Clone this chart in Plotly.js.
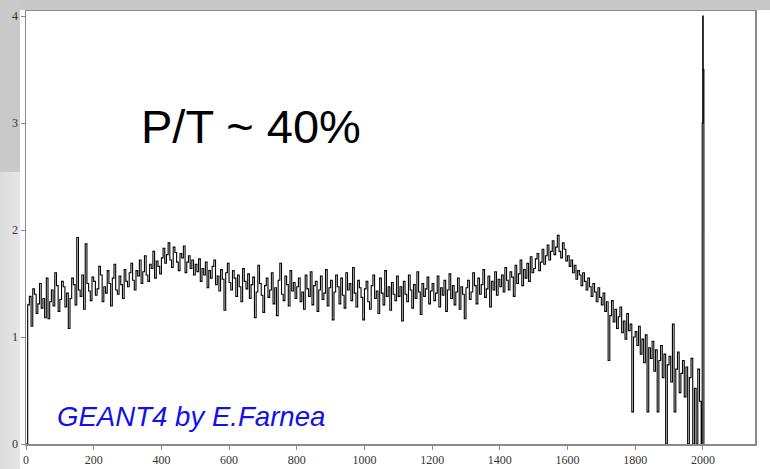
<!DOCTYPE html>
<html>
<head>
<meta charset="utf-8">
<script src="https://cdn.plot.ly/plotly-3.0.1.min.js"></script>
<style>
  html, body { margin: 0; padding: 0; width: 770px; height: 469px; overflow: hidden; }
  body { background: #ffffff; position: relative; }
  #topStrip { position: absolute; left: 0; top: 0; width: 770px; height: 10px; background: #c8c8c8; }
  #leftUpper { position: absolute; left: 0; top: 0; width: 20px; height: 172px; background: #c9c9c9; }
  #leftLower { position: absolute; left: 0; top: 172px; width: 20px; height: 297px; background: linear-gradient(to right, #dcdcdc, #e6e6e6); }
  #chart { position: absolute; left: 0; top: 0; width: 770px; height: 469px; }
</style>
</head>
<body>
<div id="topStrip"></div>
<div id="leftUpper"></div>
<div id="leftLower"></div>
<div id="chart"></div>
<script>
// Spectrum: counts per bin (bin start 0, width 5 keV)
const binStart = 0;
const binWidth = 5;
const counts = [
  // 0-95
  0.00, 1.30, 1.38, 1.10, 1.45, 1.40, 1.22, 1.31, 1.50, 1.27, 1.36, 1.18, 1.55, 1.17, 1.33, 1.44, 1.29, 1.60, 1.48, 1.24,
  // 100-195
  1.35, 1.52, 1.47, 1.28, 1.41, 1.08, 1.36, 1.55, 1.49, 1.30, 1.93, 1.44, 1.38, 1.58, 1.26, 1.87, 1.50, 1.43, 1.34, 1.56,
  // 200-295
  1.52, 1.39, 1.45, 1.66, 1.58, 1.33, 1.47, 1.41, 1.62, 1.50, 1.29, 1.55, 1.68, 1.44, 1.40, 1.57, 1.49, 1.36, 1.63, 1.52,
  // 300-395
  1.47, 1.60, 1.69, 1.53, 1.44, 1.62, 1.57, 1.72, 1.50, 1.61, 1.76, 1.58, 1.52, 1.68, 1.64, 1.80, 1.55, 1.71, 1.66, 1.59,
  // 400-495
  1.74, 1.83, 1.69, 1.77, 1.88, 1.72, 1.65, 1.84, 1.79, 1.70, 1.62, 1.78, 1.74, 1.85, 1.60, 1.70, 1.76, 1.64, 1.72, 1.58,
  // 500-595
  1.68, 1.61, 1.73, 1.52, 1.64, 1.58, 1.70, 1.46, 1.62, 1.55, 1.66, 1.72, 1.49, 1.57, 1.43, 1.63, 1.54, 1.25, 1.60, 1.69,
  // 600-695
  1.51, 1.44, 1.62, 1.55, 1.38, 1.58, 1.47, 1.33, 1.64, 1.52, 1.45, 1.59, 1.36, 1.49, 1.56, 1.18, 1.42, 1.67, 1.50, 1.39,
  // 700-795
  1.23, 1.48, 1.55, 1.37, 1.44, 1.60, 1.31, 1.46, 1.20, 1.53, 1.69, 1.40, 1.34, 1.57, 1.49, 1.29, 1.62, 1.43, 1.51, 1.36,
  // 800-895
  1.47, 1.55, 1.33, 1.42, 1.26, 1.58, 1.45, 1.38, 1.61, 1.30, 1.48, 1.52, 1.24, 1.44, 1.57, 1.35, 1.41, 1.63, 1.29, 1.46,
  // 900-995
  1.53, 1.16, 1.42, 1.58, 1.47, 1.31, 1.55, 1.39, 1.27, 1.60, 1.44, 1.50, 1.34, 1.65, 1.41, 1.28, 1.53, 1.46, 1.37, 1.16,
  // 1000-1095
  1.45, 1.52, 1.33, 1.26, 1.48, 1.58, 1.36, 1.43, 1.22, 1.55, 1.41, 1.30, 1.62, 1.38, 1.47, 1.25, 1.51, 1.40, 1.34, 1.57,
  // 1100-1195
  1.38, 1.47, 1.15, 1.52, 1.40, 1.33, 1.58, 1.44, 1.27, 1.49, 1.36, 1.61, 1.42, 1.21, 1.50, 1.38, 1.45, 1.56, 1.31, 1.43,
  // 1200-1295
  1.50, 1.34, 1.41, 1.57, 1.28, 1.46, 1.39, 1.53, 1.24, 1.44, 1.59, 1.36, 1.48, 1.30, 1.42, 1.55, 1.26, 1.47, 1.40, 1.17,
  // 1300-1395
  1.46, 1.53, 1.35, 1.42, 1.60, 1.48, 1.31, 1.55, 1.40, 1.49, 1.63, 1.37, 1.45, 1.57, 1.28, 1.52, 1.44, 1.61, 1.39, 1.54,
  // 1400-1495
  1.47, 1.58, 1.42, 1.65, 1.53, 1.44, 1.61, 1.56, 1.38, 1.67, 1.50, 1.59, 1.72, 1.48, 1.63, 1.55, 1.69, 1.52, 1.75, 1.60,
  // 1500-1595
  1.64, 1.73, 1.78, 1.62, 1.70, 1.82, 1.68, 1.76, 1.86, 1.72, 1.80, 1.90, 1.77, 1.84, 1.95, 1.80, 1.74, 1.88, 1.82, 1.71,
  // 1600-1695
  1.76, 1.66, 1.72, 1.60, 1.67, 1.54, 1.62, 1.58, 1.48, 1.60, 1.52, 1.44, 1.55, 1.47, 1.38, 1.50, 1.42, 1.33, 1.46, 1.37,
  // 1700-1795
  1.30, 1.41, 1.24, 1.33, 0.78, 1.20, 1.34, 1.14, 1.26, 1.08, 1.19, 1.28, 1.04, 1.15, 0.98, 1.22, 1.06, 1.12, 0.30, 1.00,
  // 1800-1895
  1.05, 0.92, 1.10, 0.84, 0.98, 0.76, 1.02, 0.30, 0.90, 0.80, 0.96, 0.68, 0.88, 0.30, 0.78, 0.92, 0.62, 0.84, 0.00, 0.74,
  // 1900-1995
  0.82, 0.58, 1.12, 0.30, 0.70, 0.86, 0.48, 0.66, 0.78, 0.44, 0.72, 0.00, 0.62, 0.80, 0.00, 0.52, 0.00, 0.70, 0.40, 0.00
];
// Full-energy peak channels near 2000 keV
const peakX = [1998, 1999.5, 2001, 2003];
const peakY = [3.0, 4.0, 3.5, 0.0];

const xTicks = [0, 200, 400, 600, 800, 1000, 1200, 1400, 1600, 1800, 2000];
const yTicks = [0, 1, 2, 3, 4];

const labelPT = "P/T ~ 40%";
const labelCredit = "GEANT4 by E.Farnea";

const xs = counts.map((_, i) => binStart + i * binWidth).concat(peakX);
const ys = counts.concat(peakY);

const trace = {
  x: xs, y: ys,
  type: 'scatter', mode: 'lines',
  line: { shape: 'hv', color: '#000000', width: 1.1 },
  hoverinfo: 'skip', showlegend: false
};

const axisCommon = {
  showgrid: false, zeroline: false,
  showline: true, mirror: true, linecolor: '#8a8a8a', linewidth: 1.5,
  ticks: 'outside', ticklen: 4, tickcolor: '#8a8a8a', tickwidth: 1,
  tickfont: { family: 'Liberation Serif, DejaVu Serif, serif', size: 12, color: '#333333' }
};

const layout = {
  width: 770, height: 469,
  margin: { l: 26, r: 15, t: 11, b: 25, pad: 0 },
  paper_bgcolor: 'rgba(0,0,0,0)',
  plot_bgcolor: '#ffffff',
  xaxis: Object.assign({}, axisCommon, {
    range: [0, 2154], tickvals: xTicks, ticktext: xTicks.map(String)
  }),
  yaxis: Object.assign({}, axisCommon, {
    range: [0, 4.047], tickvals: yTicks, ticktext: yTicks.map(String)
  }),
  annotations: [
    { x: 665, y: 2.97, xref: 'x', yref: 'y', text: labelPT, showarrow: false,
      xanchor: 'center', yanchor: 'middle',
      font: { family: 'Liberation Sans, Arial, sans-serif', size: 47, color: '#000000' } },
    { x: 487, y: 0.26, xref: 'x', yref: 'y', text: '<i>' + labelCredit + '</i>', showarrow: false,
      xanchor: 'center', yanchor: 'middle',
      font: { family: 'Liberation Sans, Arial, sans-serif', size: 27.6, color: '#1010f0' } }
  ]
};

Plotly.newPlot('chart', [trace], layout, { staticPlot: true, displayModeBar: false });
</script>
</body>
</html>
